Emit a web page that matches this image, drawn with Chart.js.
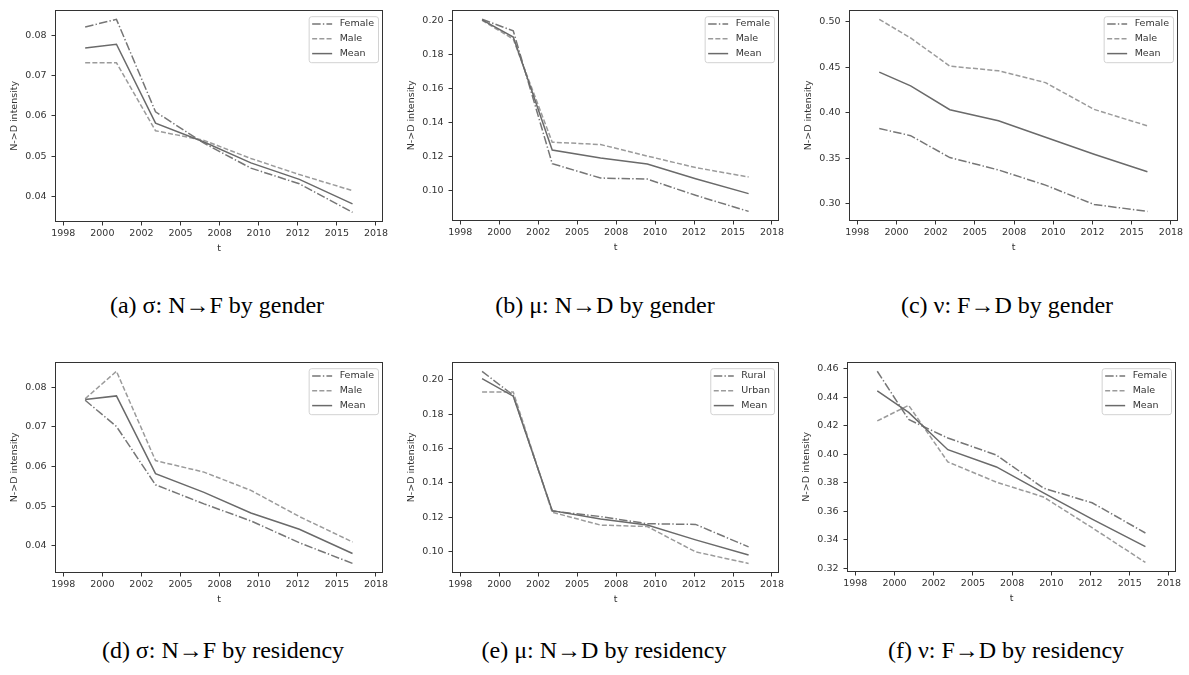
<!DOCTYPE html>
<html>
<head>
<meta charset="utf-8">
<title>Transition intensities by gender and residency</title>
<script src="https://cdn.jsdelivr.net/npm/chart.js@4.4.1/dist/chart.umd.min.js"></script>
<style>
  html, body { margin: 0; padding: 0; background: #fff; }
  #figure { position: relative; width: 1189px; height: 675px; overflow: hidden; background: #fff; }
  .caption {
    position: absolute;
    height: 30px;
    line-height: 30px;
    font-family: "Liberation Serif", "Times New Roman", serif;
    font-size: 24px;
    color: #000;
    white-space: nowrap;
    transform: translateX(-50%);
  }
</style>
</head>
<body>
<div id="figure">
  <div class="caption" style="left:217px;top:290px">(a) σ: N→F by gender</div>
  <div class="caption" style="left:605px;top:290px">(b) μ: N→D by gender</div>
  <div class="caption" style="left:1007px;top:290px">(c) ν: F→D by gender</div>
  <div class="caption" style="left:223px;top:635px">(d) σ: N→F by residency</div>
  <div class="caption" style="left:604px;top:635px">(e) μ: N→D by residency</div>
  <div class="caption" style="left:1006px;top:635px">(f) ν: F→D by residency</div>
</div>
<script>
// survey waves (decimal years) and the year ticks of the date axis
var years = [1998.9, 2000.9, 2003.4, 2006.5, 2009.5, 2012.6, 2016.0];
var xTickValues = [1997.5, 2000, 2002.5, 2005, 2007.5, 2010, 2012.5, 2015, 2017.5];
var xTickLabels = ['1998', '2000', '2002', '2005', '2008', '2010', '2012', '2015', '2018'];

// sigma: N -> F
var sigmaGenderFemale = [0.0821, 0.0840, 0.0610, 0.0532, 0.0470, 0.0431, 0.0360];
var sigmaGenderMale = [0.0732, 0.0732, 0.0563, 0.0539, 0.0494, 0.0454, 0.0414];
var sigmaResFemale = [0.0767, 0.0701, 0.0554, 0.0506, 0.0463, 0.0408, 0.0356];
var sigmaResMale = [0.0771, 0.0840, 0.0615, 0.0586, 0.0540, 0.0474, 0.0410];
var sigmaMean = [0.0769, 0.0778, 0.0582, 0.0535, 0.0483, 0.0442, 0.0381];

// mu: N -> D
var muGenderFemale = [0.2010, 0.1942, 0.1157, 0.1072, 0.1066, 0.0970, 0.0875];
var muGenderMale = [0.2004, 0.1893, 0.1284, 0.1270, 0.1202, 0.1134, 0.1078];
var muRural = [0.2050, 0.1910, 0.1236, 0.1204, 0.1162, 0.1158, 0.1027];
var muUrban = [0.1929, 0.1929, 0.1229, 0.1154, 0.1146, 0.0998, 0.0931];
var muMean = [0.2007, 0.1905, 0.1238, 0.1190, 0.1155, 0.1068, 0.0980];

// nu: F -> D
var nuGenderFemale = [0.3827, 0.3748, 0.3508, 0.3372, 0.3205, 0.2993, 0.2917];
var nuGenderMale = [0.5025, 0.4820, 0.4511, 0.4460, 0.4330, 0.4036, 0.3856];
var nuResFemale = [0.4584, 0.4245, 0.4115, 0.3995, 0.3763, 0.3660, 0.3448];
var nuResMale = [0.4235, 0.4345, 0.3947, 0.3805, 0.3701, 0.3485, 0.3241];
var nuMean = [0.4446, 0.4295, 0.4033, 0.3912, 0.3730, 0.3545, 0.3352];

// y tick positions per panel
var sigmaTicks = [0.04, 0.05, 0.06, 0.07, 0.08];
var muTicks = [0.10, 0.12, 0.14, 0.16, 0.18, 0.20];
var nuGenderTicks = [0.30, 0.35, 0.40, 0.45, 0.50];
var nuResTicks = [0.32, 0.34, 0.36, 0.38, 0.40, 0.42, 0.44, 0.46];

(function () {
  'use strict';

  var X_MIN = 1996.97;
  var X_MAX = 2017.95;
  var AXIS_W = 50;   // room for y tick labels + title
  var AXIS_H = 36;   // room for x tick labels + title
  var PAD_T = 8;
  var PAD_R = 12;
  var FONT = '"DejaVu Sans", sans-serif';
  var FONT_SIZE = 9.5;
  var INK = '#333333';

  var lineStyles = [
    { color: '#767676', dash: [8.5, 2.2, 1.4, 2.2], order: 2 },
    { color: '#9b9b9b', dash: [5, 2.2], order: 1 },
    { color: '#6a6a6a', dash: [], order: 0 }
  ];

  // plot box of each panel: left, top, right, bottom (page px)
  var panels = [
    { box: [55, 7, 383, 222], labels: ['Female', 'Male', 'Mean'],
      series: [sigmaGenderFemale, sigmaGenderMale, sigmaMean], yTicks: sigmaTicks },
    { box: [452, 7, 779, 221], labels: ['Female', 'Male', 'Mean'],
      series: [muGenderFemale, muGenderMale, muMean], yTicks: muTicks },
    { box: [849, 7, 1178, 221], labels: ['Female', 'Male', 'Mean'],
      series: [nuGenderFemale, nuGenderMale, nuMean], yTicks: nuGenderTicks },
    { box: [55, 359, 383, 573], labels: ['Female', 'Male', 'Mean'],
      series: [sigmaResFemale, sigmaResMale, sigmaMean], yTicks: sigmaTicks },
    { box: [452, 359, 779, 573], labels: ['Rural', 'Urban', 'Mean'],
      series: [muRural, muUrban, muMean], yTicks: muTicks },
    { box: [847, 359, 1176, 572], labels: ['Female', 'Male', 'Mean'],
      series: [nuResFemale, nuResMale, nuMean], yTicks: nuResTicks }
  ];

  // spines on all four sides
  var axesFrame = {
    id: 'axesFrame',
    afterDatasetsDraw: function (chart) {
      var a = chart.chartArea;
      var ctx = chart.ctx;
      ctx.save();
      ctx.strokeStyle = INK;
      ctx.lineWidth = 1;
      ctx.strokeRect(Math.round(a.left) + 0.5, Math.round(a.top) + 0.5,
        Math.round(a.right - a.left) - 1, Math.round(a.bottom - a.top) - 1);
      ctx.restore();
    }
  };

  // framed legend in the upper right corner of the plot box
  var insetLegend = {
    id: 'insetLegend',
    afterDatasetsDraw: function (chart) {
      var a = chart.chartArea;
      var ctx = chart.ctx;
      var sets = chart.data.datasets;
      ctx.save();
      ctx.font = FONT_SIZE + 'px ' + FONT;
      var textW = Math.max.apply(null, sets.map(function (d) { return ctx.measureText(d.label).width; }));
      var w = 31 + textW + 4;
      var h = 46;
      var x = a.right - 5 - w;
      var y = a.top + 6.5;

      ctx.beginPath();
      ctx.roundRect(x + 0.5, y + 0.5, w, h, 2.5);
      ctx.fillStyle = 'rgba(255,255,255,0.8)';
      ctx.fill();
      ctx.strokeStyle = '#d2d2d2';
      ctx.lineWidth = 1;
      ctx.stroke();

      sets.forEach(function (d, i) {
        var cy = y + 7.8 + i * 14.8;
        ctx.setLineDash(d.borderDash || []);
        ctx.strokeStyle = d.borderColor;
        ctx.lineWidth = d.borderWidth;
        ctx.beginPath();
        ctx.moveTo(x + 3.5, cy);
        ctx.lineTo(x + 23.5, cy);
        ctx.stroke();
        ctx.setLineDash([]);
        ctx.fillStyle = INK;
        ctx.textBaseline = 'middle';
        ctx.textAlign = 'left';
        ctx.fillText(d.label, x + 31, cy);
      });
      ctx.restore();
    }
  };

  function yLimits(series) {
    var all = [].concat.apply([], series);
    var lo = Math.min.apply(null, all);
    var hi = Math.max.apply(null, all);
    var pad = (hi - lo) * 0.05;
    return { min: lo - pad, max: hi + pad };
  }

  function buildPanel(p) {
    var left = p.box[0], top = p.box[1], right = p.box[2], bottom = p.box[3];
    var w = right - left + AXIS_W + PAD_R;
    var h = bottom - top + PAD_T + AXIS_H;

    var canvas = document.createElement('canvas');
    canvas.width = w;
    canvas.height = h;
    canvas.style.cssText = 'position:absolute;left:' + (left - AXIS_W) + 'px;top:' + (top - PAD_T) +
      'px;width:' + w + 'px;height:' + h + 'px;';
    document.getElementById('figure').appendChild(canvas);

    var lim = yLimits(p.series);
    var tickFont = { family: FONT, size: FONT_SIZE };

    var datasets = p.labels.map(function (label, i) {
      var st = lineStyles[i];
      return {
        label: label,
        data: years.map(function (t, k) { return { x: t, y: p.series[i][k] }; }),
        borderColor: st.color,
        borderWidth: 1.5,
        borderDash: st.dash,
        borderCapStyle: 'butt',
        order: st.order,
        pointRadius: 0,
        tension: 0,
        fill: false
      };
    });

    new Chart(canvas, {
      type: 'line',
      data: { datasets: datasets },
      options: {
        responsive: false,
        animation: false,
        devicePixelRatio: 1,
        layout: { padding: { left: 0, top: PAD_T, right: PAD_R, bottom: 0 } },
        plugins: {
          legend: { display: false },
          tooltip: { enabled: false }
        },
        scales: {
          x: {
            type: 'linear',
            min: X_MIN,
            max: X_MAX,
            afterFit: function (s) { s.height = AXIS_H; },
            afterBuildTicks: function (s) {
              s.ticks = xTickValues.map(function (v) { return { value: v }; });
            },
            grid: { drawOnChartArea: false, drawTicks: true, tickLength: 3.5, color: INK, lineWidth: 1 },
            border: { display: false },
            ticks: {
              autoSkip: false,
              maxRotation: 0,
              padding: 2,
              color: INK,
              font: tickFont,
              callback: function (v, i) { return xTickLabels[i]; }
            },
            title: { display: true, text: 't', color: INK, font: tickFont, padding: { top: 4, bottom: 4 } }
          },
          y: {
            type: 'linear',
            min: lim.min,
            max: lim.max,
            afterFit: function (s) { s.width = AXIS_W; },
            afterBuildTicks: function (s) {
              s.ticks = p.yTicks.map(function (v) { return { value: v }; });
            },
            grid: { drawOnChartArea: false, drawTicks: true, tickLength: 3.5, color: INK, lineWidth: 1 },
            border: { display: false },
            ticks: {
              autoSkip: false,
              padding: 5,
              color: INK,
              font: tickFont,
              callback: function (v) { return v.toFixed(2); }
            },
            title: { display: true, text: 'N->D intensity', color: INK, font: tickFont, padding: { top: 4, bottom: 4 } }
          }
        }
      },
      plugins: [axesFrame, insetLegend]
    });
  }

  panels.forEach(buildPanel);
})();
</script>
</body>
</html>
